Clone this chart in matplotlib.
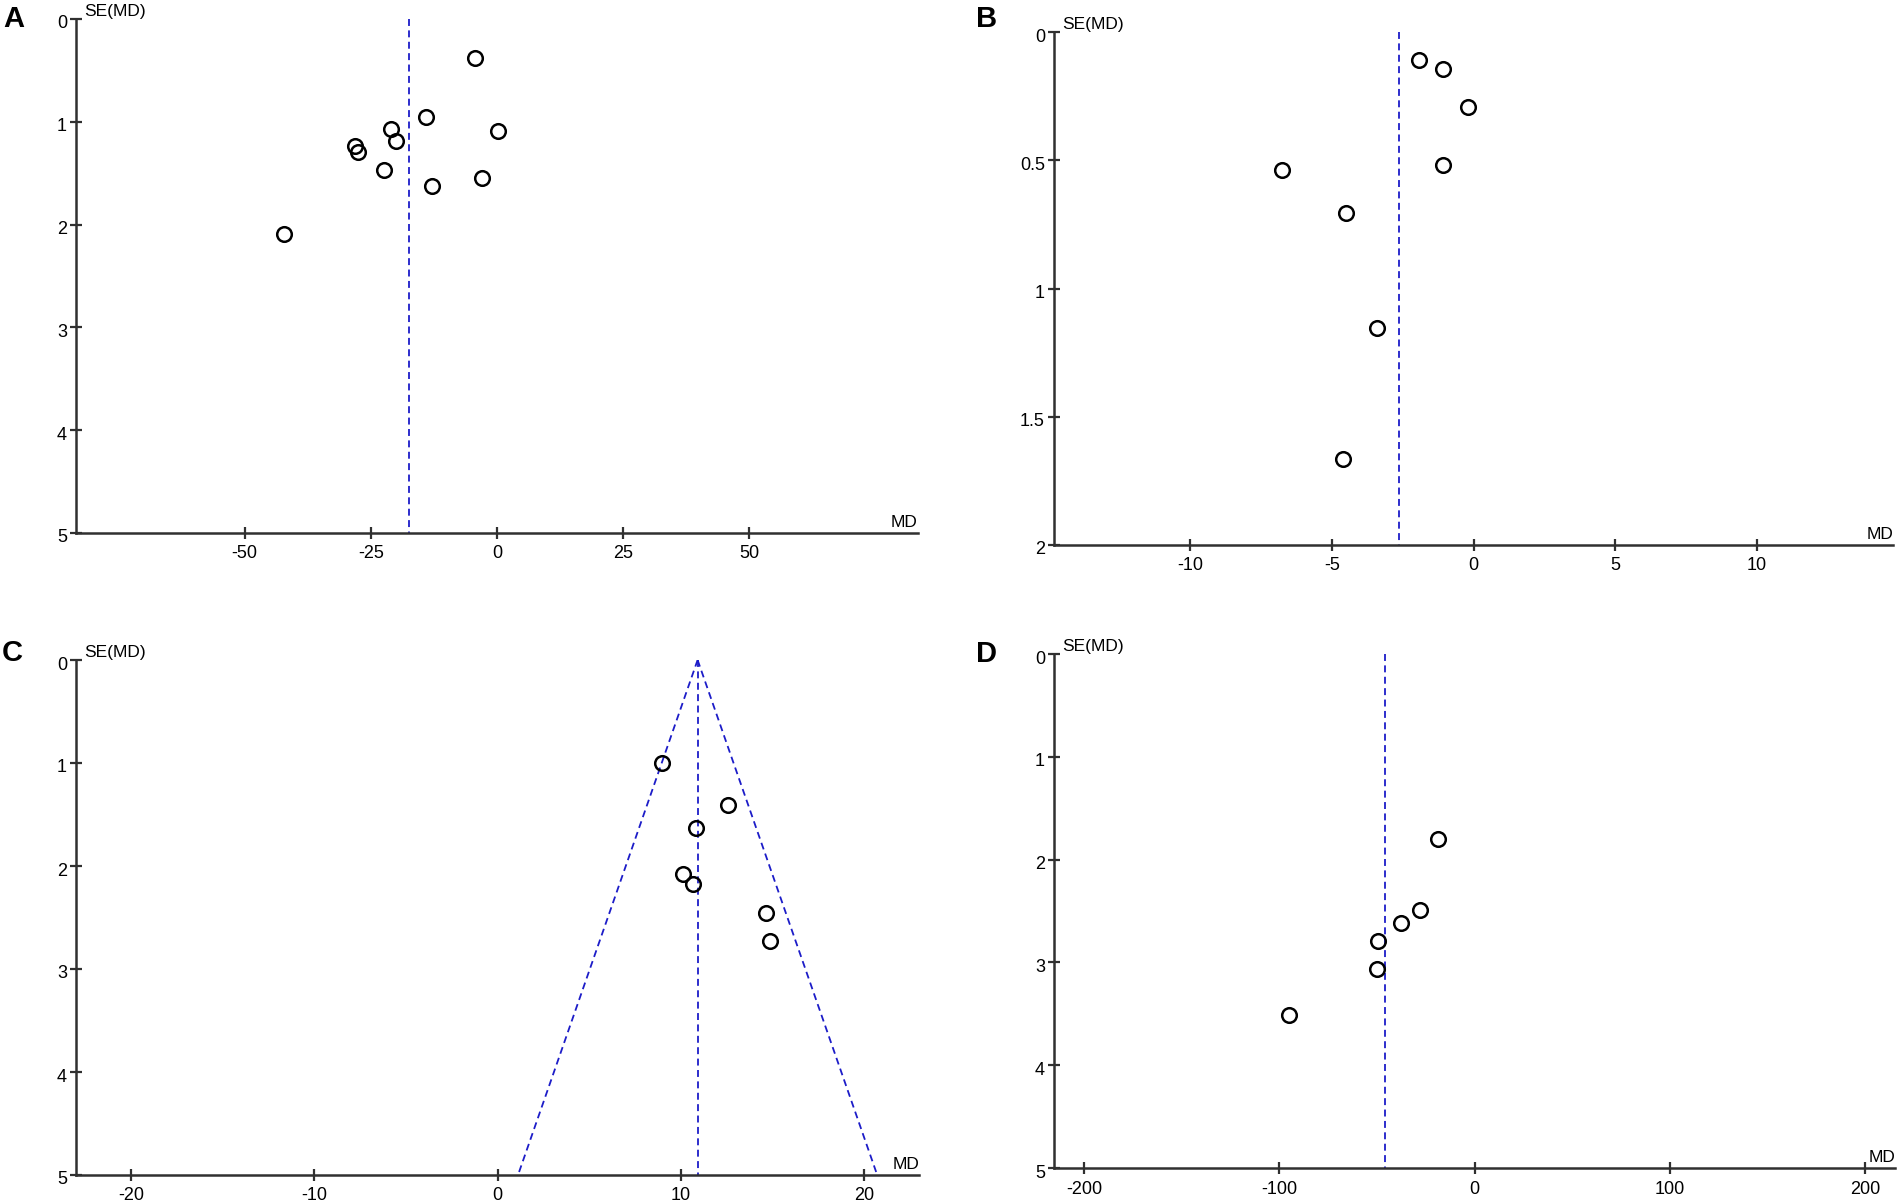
import numpy as np
import matplotlib
matplotlib.use('Agg')
import matplotlib.pyplot as plt
import matplotlib.transforms as mtransforms

plt.rcParams['font.family'] = ['Liberation Sans', 'DejaVu Sans']
plt.rcParams['lines.scale_dashes'] = False
plt.rcParams['axes.unicode_minus'] = False  # 用一般連字號

# 資料
# A
a_md = [-4.4, -14.1, -21.0, 0.1, -20.1, -28.2, -27.6, -22.3, -2.9, -12.8, -42.1]
a_se = [0.38, 0.95, 1.07, 1.09, 1.19, 1.24, 1.29, 1.47, 1.55, 1.62, 2.09]
a_pooled = -17.5
a_xticks = [-50, -25, 0, 25, 50]
a_yticks = [0, 1, 2, 3, 4, 5]

# B
b_md = [-1.92, -1.08, -0.20, -1.08, -6.74, -4.51, -3.39, -4.62]
b_se = [0.108, 0.143, 0.294, 0.517, 0.538, 0.704, 1.153, 1.664]
b_pooled = -2.63
b_xticks = [-10, -5, 0, 5, 10]
b_yticks = [0, 0.5, 1, 1.5, 2]

# C
c_md = [8.95, 12.59, 10.85, 10.1, 10.69, 14.66, 14.89]
c_se = [1.0, 1.41, 1.63, 2.08, 2.17, 2.46, 2.73]
c_pooled = 10.92
c_xticks = [-20, -10, 0, 10, 20]
c_yticks = [0, 1, 2, 3, 4, 5]

# D
d_md = [-18.6, -28.0, -37.7, -49.2, -49.8, -95.1]
d_se = [1.80, 2.49, 2.62, 2.79, 3.06, 3.51]
d_pooled = -45.9
d_xticks = [-200, -100, 0, 100, 200]
d_yticks = [0, 1, 2, 3, 4, 5]

W, H = 1900, 1203
fig = plt.figure(figsize=(W / 100, H / 100), dpi=100)


def rect(left, right, top, bottom):
    return [left / W, 1 - bottom / H, (right - left) / W, (bottom - top) / H]


axis_color = '#303030'
blue = '#1c1cc8'


def funnel(ax, md, se, pooled, xlim, ymax, xticks, yticks, letter, letter_xy, cone=False):
    ax.plot(md, se, 'o', ms=10.5, mfc='none', mec='black', mew=1.8, zorder=3)
    ax.plot([pooled, pooled], [0, ymax], color=blue, lw=1.3, dashes=(5, 3.2))
    if cone:
        se_lim = np.array([0, ymax])
        ax.plot(pooled - 1.96 * se_lim, se_lim, color=blue, lw=1.3, dashes=(5, 3.2))
        ax.plot(pooled + 1.96 * se_lim, se_lim, color=blue, lw=1.3, dashes=(5, 3.2))
    ax.set_xlim(-xlim, xlim)
    ax.set_ylim(ymax, 0)
    for s in ['top', 'right']:
        ax.spines[s].set_visible(False)
    for s in ['left', 'bottom']:
        ax.spines[s].set_color(axis_color)
        ax.spines[s].set_linewidth(1.8)
    ax.set_xticks(xticks)
    ax.set_yticks(yticks)
    ax.set_yticklabels(['%g' % v for v in yticks])
    ax.tick_params(axis='y', direction='inout', length=9, width=1.6, color=axis_color,
                   labelsize=13, pad=2)
    ax.tick_params(axis='x', direction='inout', length=8, width=1.6, color=axis_color,
                   labelsize=13, pad=5)
    off = mtransforms.ScaledTranslation(0, -3 / 100, fig.dpi_scale_trans)
    for lab in ax.get_yticklabels():
        lab.set_transform(lab.get_transform() + off)
    ax.patch.set_visible(False)
    ax.annotate('SE(MD)', xy=(0, 1), xycoords='axes fraction', xytext=(6, 0),
                textcoords='offset points', ha='left', va='bottom', fontsize=12.5)
    ax.annotate('MD', xy=(1, 0), xycoords='axes fraction', xytext=(0, 2),
                textcoords='offset points', ha='right', va='bottom', fontsize=12.5)
    fig.text(letter_xy[0] / W, 1 - letter_xy[1] / H, letter, fontsize=21,
             fontweight='bold', ha='left', va='top')


axA = fig.add_axes(rect(76, 918, 19, 533))
funnel(axA, a_md, a_se, a_pooled, 83.4, 5, a_xticks, a_yticks, 'A', (3, 5))

axB = fig.add_axes(rect(1054, 1893, 32, 545))
funnel(axB, b_md, b_se, b_pooled, 14.8, 2, b_xticks, b_yticks, 'B', (976, 5))

axC = fig.add_axes(rect(76, 919, 660, 1175))
funnel(axC, c_md, c_se, c_pooled, 23.0, 5, c_xticks, c_yticks, 'C', (2, 639), cone=True)

axD = fig.add_axes(rect(1054, 1895, 654, 1168))
funnel(axD, d_md, d_se, d_pooled, 215.5, 5, d_xticks, d_yticks, 'D', (976, 640))

fig.savefig('out.png', dpi=100)
